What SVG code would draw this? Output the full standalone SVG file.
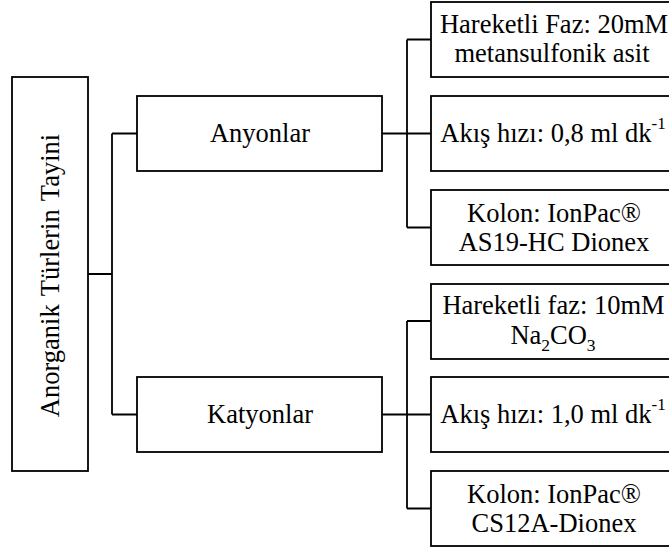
<svg xmlns="http://www.w3.org/2000/svg" width="669" height="550" viewBox="0 0 669 550" font-family="'Liberation Serif', 'Times New Roman', serif" font-size="26.5">
<style>
rect.box{fill:#fff;stroke:#000;stroke-width:1.8}
#connectors path{fill:none;stroke:#000;stroke-width:1.8}
text{font-family:'Liberation Serif','Times New Roman',serif;font-size:26.5px;fill:#000;text-anchor:middle}
.sup{font-size:17px}
.sub{font-size:17.5px}
</style>
<rect width="669" height="550" fill="#fff"/>
<g id="connectors">
<path d="M88,274 H112 M112,133.5 V414.5 M112,133.5 H137 M112,414.5 H137"/>
<path d="M382,133.5 H431 M407,39.5 V227.5 M407,39.5 H431 M407,227.5 H431"/>
<path d="M382,414.5 H431 M407,321 V508.5 M407,321 H431 M407,508.5 H431"/>
</g>
<g id="root">
<rect class="box" x="12" y="77" width="76" height="394"/>
<text word-spacing="2" transform="translate(59,275.5) rotate(-90)">Anorganik Türlerin Tayini</text>
</g>
<g id="anyonlar">
<rect class="box" x="137" y="96" width="245" height="75"/>
<text x="260" y="142">Anyonlar</text>
</g>
<g id="katyonlar">
<rect class="box" x="137" y="377" width="245" height="75"/>
<text x="260" y="423">Katyonlar</text>
</g>
<g id="a-faz">
<rect class="box" x="431" y="2" width="242" height="75"/>
<text x="554" y="33">Hareketli Faz: 20mM</text>
<text x="552" y="62">metansulfonik asit</text>
</g>
<g id="a-akis">
<rect class="box" x="431" y="96" width="242" height="75"/>
<text x="553" y="142">Akış hızı: 0,8 ml dk<tspan class="sup" dy="-13">-1</tspan></text>
</g>
<g id="a-kolon">
<rect class="box" x="431" y="190" width="242" height="75"/>
<text x="554" y="222">Kolon: IonPac®</text>
<text x="554" y="251">AS19-HC Dionex</text>
</g>
<g id="k-faz">
<rect class="box" x="431" y="284" width="242" height="75"/>
<text x="553.5" y="314">Hareketli faz: 10mM</text>
<text x="553" y="344">Na<tspan class="sub" dy="7">2</tspan><tspan dy="-7">CO</tspan><tspan class="sub" dy="7">3</tspan></text>
</g>
<g id="k-akis">
<rect class="box" x="431" y="377" width="242" height="75"/>
<text x="553" y="423">Akış hızı: 1,0 ml dk<tspan class="sup" dy="-13">-1</tspan></text>
</g>
<g id="k-kolon">
<rect class="box" x="431" y="471" width="242" height="75"/>
<text x="554" y="503">Kolon: IonPac®</text>
<text x="554" y="532">CS12A-Dionex</text>
</g>
</svg>
